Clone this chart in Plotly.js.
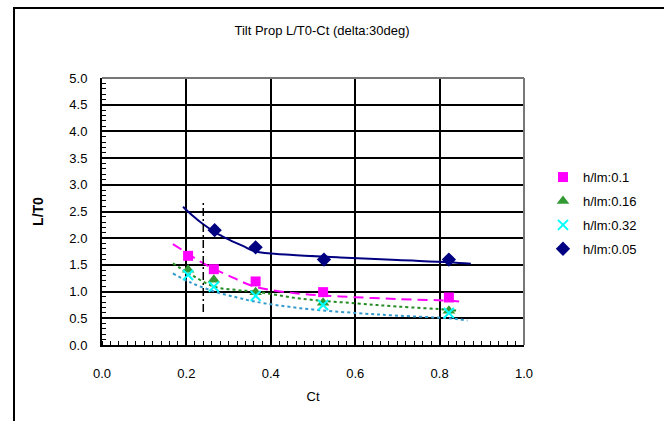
<!DOCTYPE html>
<html>
<head>
<meta charset="utf-8">
<script src="https://cdn.plot.ly/plotly-3.0.1.min.js"></script>
<style>
html,body{margin:0;padding:0;background:#fff;}
#wrap{position:relative;width:664px;height:421px;}
#chart{width:664px;height:421px;}
#frame{position:absolute;left:13px;top:7px;width:700px;height:500px;border-left:2px solid #000;border-top:2px solid #000;pointer-events:none;box-sizing:border-box;}
</style>
</head>
<body>
<div id="wrap"><div id="chart"></div><div id="frame"></div></div>
<script>
// measured points
const ctPts = [0.204, 0.265, 0.364, 0.524, 0.822];
const ctPts05 = [0.267, 0.364, 0.526, 0.822];
const hl010 = [1.67, 1.42, 1.19, 0.99, 0.89];
const hl016 = [1.41, 1.22, 0.99, 0.79, 0.64];
const hl032 = [1.31, 1.09, 0.92, 0.75, 0.60];
const hl005 = [2.15, 1.83, 1.60, 1.60];

// fitted / calculated curves
const curve005X = [0.192, 0.215, 0.240, 0.270, 0.302, 0.335, 0.364, 0.445, 0.564, 0.700, 0.822, 0.874];
const curve005Y = [2.59, 2.42, 2.26, 2.10, 1.97, 1.85, 1.75, 1.69, 1.64, 1.59, 1.55, 1.52];
const curve010X = [0.168, 0.200, 0.240, 0.300, 0.364, 0.469, 0.564, 0.700, 0.822, 0.855];
const curve010Y = [1.89, 1.73, 1.53, 1.30, 1.09, 0.96, 0.91, 0.86, 0.83, 0.81];
const curve016X = [0.168, 0.210, 0.267, 0.320, 0.364, 0.469, 0.600, 0.700, 0.822, 0.847];
const curve016Y = [1.53, 1.32, 1.09, 1.03, 1.00, 0.87, 0.78, 0.72, 0.66, 0.64];
const curve032X = [0.168, 0.210, 0.267, 0.320, 0.364, 0.469, 0.600, 0.700, 0.822, 0.866];
const curve032Y = [1.34, 1.17, 1.00, 0.89, 0.81, 0.69, 0.60, 0.55, 0.50, 0.46];
const limitX = [0.24, 0.24];
const limitY = [0.62, 2.68];

const names = ['h/lm:0.1', 'h/lm:0.16', 'h/lm:0.32', 'h/lm:0.05'];
const xTicks = [0, 0.2, 0.4, 0.6, 0.8, 1.0];
const xTickText = ['0.0', '0.2', '0.4', '0.6', '0.8', '1.0'];
const yTicks = [0, 0.5, 1, 1.5, 2, 2.5, 3, 3.5, 4, 4.5, 5];
const yTickText = ['0.0','0.5','1.0','1.5','2.0','2.5','3.0','3.5','4.0','4.5','5.0'];

const traces = [
  {x: curve005X, y: curve005Y, mode: 'lines', line: {color: '#000080', width: 2, shape: 'spline'}, showlegend: false, hoverinfo: 'skip'},
  {x: curve010X, y: curve010Y, mode: 'lines', line: {color: '#FF00FF', width: 2, dash: '10px,6px', shape: 'spline'}, showlegend: false, hoverinfo: 'skip'},
  {x: curve016X, y: curve016Y, mode: 'lines', line: {color: '#228B22', width: 2, dash: 'dot', shape: 'spline'}, showlegend: false, hoverinfo: 'skip'},
  {x: curve032X, y: curve032Y, mode: 'lines', line: {color: '#3399CC', width: 2, dash: 'dot', shape: 'spline'}, showlegend: false, hoverinfo: 'skip'},
  {x: limitX, y: limitY, mode: 'lines', line: {color: '#000000', width: 1.5, dash: '8px,3px,2px,3px'}, showlegend: false, hoverinfo: 'skip'},
  {x: ctPts, y: hl010, name: names[0], legendgroup: 'a', mode: 'markers', marker: {symbol: 'square', color: '#FF00FF', size: 10}},
  {x: ctPts, y: hl016, name: names[1], legendgroup: 'b', mode: 'markers', marker: {symbol: 'triangle-up', color: '#339933', size: 11}},
  {x: ctPts, y: hl032, name: names[2], legendgroup: 'c', mode: 'markers', marker: {symbol: 'x-thin', color: '#00FFFF', size: 10, line: {color: '#00FFFF', width: 2}}},
  {x: ctPts05, y: hl005, name: names[3], legendgroup: 'd', mode: 'markers', marker: {symbol: 'diamond', color: '#000080', size: 11}}
];

const layout = {
  width: 664, height: 421,
  margin: {l: 102, r: 140, t: 78, b: 76},
  paper_bgcolor: '#ffffff', plot_bgcolor: '#ffffff',
  font: {family: 'Liberation Sans, Arial, sans-serif', size: 13, color: '#000'},
  title: {text: 'Tilt Prop L/T0-Ct (delta:30deg)', x: 0.485, xanchor: 'center', y: 0.928, yanchor: 'middle', font: {size: 13, color: '#000'}},
  xaxis: {
    range: [0, 1.0], tickvals: xTicks, ticktext: xTickText,
    showgrid: true, gridcolor: '#000', gridwidth: 2,
    showline: true, linecolor: '#000', linewidth: 2, mirror: false,
    ticks: '', zeroline: false, ticklabelstandoff: 15,
    minor: {dtick: 0.02, ticks: 'inside', ticklen: 4, tickcolor: '#000', tickwidth: 1, showgrid: false},
    title: {text: 'Ct', font: {size: 13}, standoff: 12}
  },
  yaxis: {
    range: [0, 5.0], tickvals: yTicks, ticktext: yTickText,
    showgrid: true, gridcolor: '#000', gridwidth: 2,
    showline: true, linecolor: '#000', linewidth: 2, mirror: false,
    ticks: '', zeroline: false, ticklabelstandoff: 10,
    minor: {dtick: 0.1, ticks: 'inside', ticklen: 4, tickcolor: '#000', tickwidth: 1, showgrid: false},
    title: {text: '<b>L/T0</b>', font: {size: 14}, standoff: 22}
  },
  shapes: [
    {type: 'line', xref: 'paper', yref: 'paper', x0: 0, x1: 1, y0: 1, y1: 1, line: {color: '#777', width: 2}},
    {type: 'line', xref: 'paper', yref: 'paper', x0: 1, x1: 1, y0: 0, y1: 1, line: {color: '#777', width: 2}}
  ],
  legend: {
    x: 1.045, xanchor: 'left', y: 0.685, yanchor: 'top',
    font: {size: 13}, traceorder: 'grouped', tracegroupgap: 4, itemwidth: 30,
    bgcolor: 'rgba(0,0,0,0)'
  },
  showlegend: true
};

Plotly.newPlot('chart', traces, layout, {displayModeBar: false, staticPlot: true});
</script>
</body>
</html>
